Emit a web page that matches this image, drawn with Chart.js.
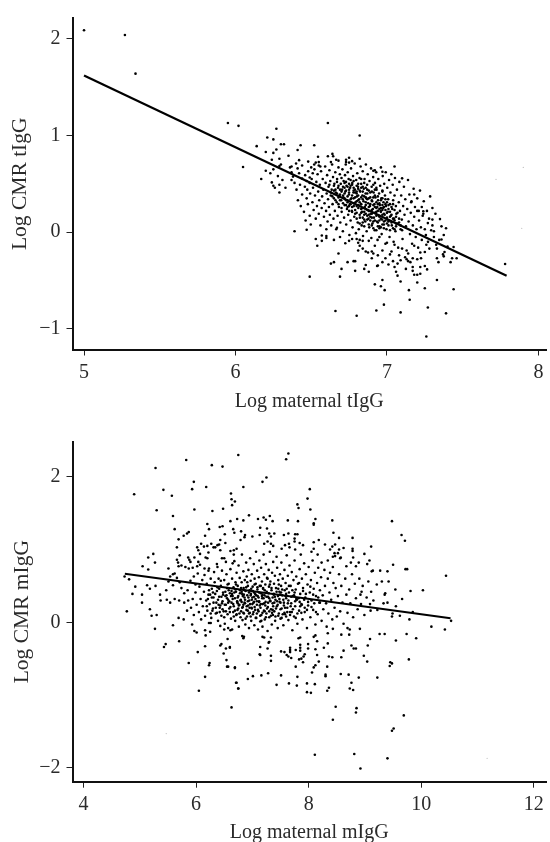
<!DOCTYPE html>
<html>
<head>
<meta charset="utf-8">
<script src="https://cdn.jsdelivr.net/npm/chart.js@4"></script>
<style>
html, body { margin: 0; padding: 0; background: #fff; overflow: hidden; height: 842px; }
canvas { position: absolute; left: 0; }
#topChart { top: 0; }
#bottomChart { top: 420px; }
</style>
</head>
<body>
<canvas id="topChart" width="550" height="414"></canvas>
<canvas id="bottomChart" width="550" height="425"></canvas>
<script>
const topXTicks = [5, 6, 7, 8];
const topYTicks = [-1, 0, 1, 2];
const bottomXTicks = [4, 6, 8, 10, 12];
const bottomYTicks = [-2, 0, 2];

const topLineX = [5, 7.79];
const topLineY = [1.62, -0.45];
const bottomLineX = [4.735, 10.52];
const bottomLineY = [0.668, 0.055];

const topFaint = [[7.72,.546],[7.9,.67],[7.89,.04]];
const bottomFaint = [[11.17,-1.87],[5.47,-1.53]];

// outliers first, then the dense cloud column by column
const topPoints = [
[5,2.09],[5.27,2.04],[5.34,1.64],[5.95,1.13],[6.02,1.1],[6.27,1.07],[6.61,1.13],[6.82,1],[6.21,.98],[6.25,.96],[6.14,.89],[6.2,.83],[6.25,.82],[6.27,.855],[6.3,.91],[6.32,.91],[6.43,.9],[6.41,.85],[6.52,.9],[6.35,.79],[6.05,.675],[6.2,.635],[6.17,.55],[6.23,.61],[6.25,.65],[6.28,.58],[6.31,.54],[6.24,.515],[6.25,.48],[6.26,.46],[6.29,.49],[6.29,.41],[6.33,.46],[6.24,.75],[6.29,.76],[6.3,.7],[6.29,.685],
[7.05,.68],[6.91,.635],[6.92,.64],[6.97,.625],[7.1,.557],[7.18,.39],[7.16,.31],[7.23,.26],[7.24,.217],[7.24,.19],[7.2,.22],[7.21,.22],[7.3,.13],[7.35,.135],[7.39,.04],[7.27,.094],[7.3,.07],[7.375,-.03],[7.36,-.076],[7.31,.01],[7.78,-.33],[7.44,-.154],[7.46,-.27],[7.43,-.27],[7.42,-.31],[7.325,-.13],[7.33,-.17],[7.33,-.27],[7.34,-.31],[7.38,-.205],[7.37,-.23],[7.375,-.25],[7.33,-.495],[7.44,-.59],[7.25,-.58],[7.27,-.78],[7.39,-.84],[7.15,-.7],[7.145,-.6],[7.2,-.52],[7.09,-.51],[7.09,-.83],[6.98,-.75],[6.93,-.81],[7.26,-1.08],[6.985,-.6],[6.96,-.56],[6.92,-.54],[6.97,-.495],[7.07,-.45],[7.06,-.41],[6.935,-.35],[6.88,-.41],[7.01,-.335],[7.05,-.36],[7.07,-.325],[7.125,-.38],[7.17,-.36],[7.17,-.4],[7.18,-.44],[7.2,-.44],[7.22,-.43],[7.22,-.36],[7.25,-.35],[7.265,-.385],[7.13,-.28],[7.14,-.3],[7.155,-.31],[7.17,-.27],[7.2,-.28],[7.225,-.27],[7.22,-.21],[7.25,-.205],[7.28,-.17],[7.26,-.13],
[6.49,-.46],[6.69,-.46],[6.66,-.815],[6.8,-.865],[6.68,-.22],[6.63,-.325],[6.65,-.31],[6.74,-.31],[6.78,-.3],[6.79,-.3],[6.7,-.38],[6.79,-.4],[6.86,-.34],[6.85,-.38],[6.94,-.345],[6.39,.01],[6.47,.025],[6.53,-.07],[6.57,-.09],[6.54,-.14],[6.6,-.06],[6.6,-.04],[6.57,-.035],[6.65,-.08],[6.69,-.05],[6.725,-.115],[6.75,-.09],[6.77,-.07],[6.8,-.07],[6.82,-.08],[6.81,-.11],[6.82,-.14],[6.84,-.17],[6.81,-.19],[6.86,-.2],[6.875,-.21],[6.9,-.2],[6.91,-.22],[6.6,.03],[6.67,.045],
[6.545,.78],[6.61,.785],[6.64,.81],[6.645,.785],[6.75,.77],[6.73,.75],[6.77,.735],[6.75,.72],[6.73,.725],[6.82,.76],[6.665,.75],[6.68,.74],[6.63,.725],[6.48,.73],[6.42,.745],[6.4,.71],[6.44,.69],[6.53,.72],[6.55,.725],[6.55,.69],[6.52,.7],[6.5,.67],[6.56,.68],[6.37,.68],[6.36,.67],[6.41,.66],[6.42,.61],[6.37,.62],[6.38,.575],[6.37,.54],[6.39,.51],[6.48,.63],[6.46,.59],[6.49,.565],[6.51,.61],[6.47,.53],[6.44,.555],[6.49,.51],
[6.403,.44],[6.412,.33],[6.426,.49],[6.431,.27],[6.44,.39],[6.452,.21],[6.458,.47],[6.463,.12],[6.47,.35],[6.474,.44],[6.478,.29],[6.49,.17],[6.493,.4],[6.497,.08],
[6.503,.55],[6.508,.31],[6.512,.46],[6.516,.23],[6.521,.65],[6.525,.38],[6.53,.14],[6.534,.52],[6.538,.27],[6.542,.6],[6.546,.42],[6.55,.19],[6.553,.33],[6.557,.49],[6.561,.07],[6.565,.63],[6.569,.25],[6.572,.37],[6.576,.55],[6.58,.44],[6.584,.16],[6.588,.3],[6.592,.68],[6.595,.51],[6.598,.22],
[6.602,.4],[6.605,.59],[6.608,.11],[6.611,.34],[6.614,.47],[6.617,.26],[6.62,.64],[6.623,.18],[6.626,.53],[6.629,.38],[6.632,.07],[6.635,.44],[6.638,.7],[6.641,.29],[6.644,.57],[6.647,.14],[6.65,.35],[6.653,.5],[6.656,.22],[6.659,.62],[6.662,.41],[6.665,.03],[6.668,.31],[6.671,.55],[6.674,.17],[6.677,.46],[6.68,.67],[6.683,.26],[6.686,.38],[6.689,.6],[6.692,.1],[6.695,.5],[6.698,.33],
[6.701,.21],[6.704,.44],[6.706,.65],[6.709,.01],[6.712,.36],[6.714,.53],[6.717,.15],[6.72,.28],[6.723,.59],[6.725,.42],[6.728,.7],[6.731,.08],[6.733,.48],[6.736,.24],[6.739,.33],[6.741,.62],[6.744,.18],[6.747,.55],[6.749,.39],[6.752,-.03],[6.755,.29],[6.757,.46],[6.76,.12],[6.763,.66],[6.765,.35],[6.768,.22],[6.771,.51],[6.773,.05],[6.776,.58],[6.779,.41],[6.781,.27],[6.784,.16],[6.787,.71],[6.789,.44],[6.792,.31],[6.795,-.01],[6.797,.54],[6.8,.2],
[6.802,.37],[6.804,.61],[6.807,.1],[6.809,.47],[6.811,.25],[6.814,.03],[6.816,.34],[6.819,.56],[6.821,.15],[6.823,.42],[6.826,.68],[6.828,.29],[6.83,.5],[6.833,.07],[6.835,.21],[6.838,.38],[6.84,.63],[6.842,-.04],[6.845,.32],[6.847,.45],[6.85,.18],[6.852,.55],[6.854,.26],[6.857,.11],[6.859,.4],[6.861,.7],[6.864,.35],[6.866,.01],[6.869,.49],[6.871,.23],[6.873,.6],[6.876,.3],[6.878,.14],[6.88,.43],[6.883,.05],[6.885,.53],[6.888,.27],[6.89,.36],[6.892,.19],[6.895,.66],[6.897,-.06],[6.899,.47],
[6.902,.32],[6.904,.09],[6.907,.24],[6.909,.57],[6.912,.41],[6.914,.15],[6.917,.29],[6.919,.02],[6.921,.51],[6.924,.36],[6.926,.2],[6.929,.62],[6.931,.44],[6.934,.11],[6.936,.26],[6.938,-.08],[6.941,.33],[6.943,.55],[6.946,.17],[6.948,.4],[6.951,.06],[6.953,.28],[6.955,.48],[6.958,.22],[6.96,.67],[6.963,.35],[6.965,-.02],[6.968,.13],[6.97,.43],[6.972,.58],[6.975,.25],[6.977,.31],[6.98,.08],[6.982,.5],[6.985,.18],[6.987,.38],[6.99,-.12],[6.992,.62],[6.994,.27],[6.997,.03],
[7.002,.46],[7.005,.21],[7.008,.34],[7.011,.12],[7.014,.54],[7.017,-.05],[7.02,.29],[7.023,.41],[7.026,.17],[7.029,.6],[7.032,.07],[7.035,.24],[7.038,.49],[7.041,.33],[7.044,-.1],[7.047,.14],[7.05,.38],[7.053,.56],[7.056,.01],[7.059,.27],[7.062,.19],[7.066,.44],[7.07,.09],[7.074,-.16],[7.078,.31],[7.082,.52],[7.086,.22],[7.09,.03],[7.094,.38],[7.098,.13],
[7.103,-.07],[7.107,.27],[7.112,.47],[7.116,.18],[7.121,.34],[7.125,.06],[7.13,-.19],[7.134,.24],[7.139,.54],[7.143,.11],[7.148,.39],[7.152,-.02],[7.157,.2],[7.162,.32],[7.166,-.12],[7.171,.07],[7.176,.45],[7.18,.16],[7.185,.26],[7.19,-.05],[7.195,.03],[7.2,.35],
[7.206,-.16],[7.212,.12],[7.218,.43],[7.224,.05],[7.23,-.08],[7.236,.17],[7.243,.32],[7.25,.03],[7.257,-.03],[7.264,.22],[7.271,-.1],[7.278,.14],[7.285,.37],[7.292,.02],[7.31,-.05],[7.32,.19],[7.345,-.08],[7.36,.06],[7.4,-.15],[7.3,.25],
[6.88,-.09],[6.92,-.14],[6.95,-.05],[6.97,-.19],[7,-.11],[7.03,-.2],[7.05,-.13],[7.08,-.24],[7.1,-.17],[7.14,-.22],[7.18,-.14],[6.84,-.09],[6.9,-.27],[6.94,-.24],[6.99,-.27],[7.02,-.23],[7.12,-.26],[7.04,-.3],[6.97,-.31],[7.09,-.29]
];

// the almost solid middle of the upper cloud, leaning along the fitted line
const topCore = [
[6.71,.47],[6.86,.28],[6.79,.36],[6.93,.17],[6.75,.41],[6.99,.12],[6.84,.42],[6.66,.44],[6.9,.23],[6.77,.26],[7.03,.1],[6.81,.33],[6.95,.3],[6.69,.39],[6.88,.35],[6.73,.52],[7,.2],[6.83,.24],[6.97,.08],[6.62,.49],[6.78,.43],[6.92,.38],[7.06,.16],[6.86,.19],[6.74,.31],[6.98,.26],[6.81,.5],[6.91,.11],[6.68,.29],[7.04,.04],[6.85,.37],[6.76,.48],[6.94,.22],[6.8,.4],[7.09,.07],[6.89,.29],[6.64,.37],[6.96,.14],[6.72,.35],[6.83,.55],[7.01,.28],[6.87,.13],[6.79,.23],[6.93,.46],[6.7,.56],[7.05,.23],[6.82,.18],[6.97,.35],[6.75,.27],[6.9,.42],[6.85,.06],[7.02,.16],[6.67,.52],[6.78,.3],[6.92,.26],[6.84,.34],[7.08,.14],[6.73,.43],[6.96,.05],[6.88,.22],[6.77,.38],[7,.31],[6.81,.45],[6.94,.1],[6.65,.43],[6.86,.46],[6.71,.3],[7.03,.18],[6.9,.33],[6.8,.14],[6.98,.19],[6.75,.5],[6.87,.4],[6.93,.02],[6.69,.33],[7.06,.09],[6.83,.29],[6.95,.24],[6.78,.53],[6.91,.36],[6.82,.09],[7.01,.07],[6.74,.37],[6.89,.16],[6.97,.42],[6.7,.25],[6.85,.51],[7.04,.29],[6.8,.27],[6.92,.12],[6.76,.34],[6.99,.34],[6.86,.24],[6.63,.41],[6.94,.29],[6.72,.46],[6.88,.08],[7.07,.2],[6.84,.47],[6.96,.21],[6.79,.41],[7.02,.02],[6.9,.19],[6.68,.48],[6.83,.2],[6.98,.11],[6.75,.22],[6.93,.31],[6.81,.38],[7.1,.02],[6.87,.34],[6.73,.28],[6.95,.16],[6.78,.46],[7,.15],[6.91,.49],[6.66,.33],[6.85,.13],[6.97,.28],[6.8,.32],[7.05,.12],[6.89,.41],[6.72,.4],[6.94,.06],[6.84,.25],[6.76,.54],[6.99,.23],[6.92,.2],[6.69,.44],[7.03,.26],[6.82,.43],[6.88,.18],[6.74,.47],[6.96,.33],[6.79,.19],[7.08,.1],[6.9,.07],[6.86,.31],[6.71,.38],[6.95,.04],[6.83,.36],[7.01,.24],[6.77,.21],[6.93,.25],[6.65,.48],[6.8,.48],[6.97,.18],[6.87,.44],[6.73,.33],[7.04,.14],[6.91,.28],[6.85,.21],[6.98,.04],[6.75,.44],[6.89,.12],[6.81,.28],[7.06,.06],[6.94,.37],[6.68,.36],[6.84,.15],[7,.09],[6.78,.35],[6.92,.44],[6.86,.36],[6.7,.42],[6.96,.25],[7.02,.21],[6.83,.46],[6.76,.29],[6.9,.15],[6.88,.26],[6.72,.51],[7.05,.03],[6.8,.42],[6.95,.12],[6.84,.1],[6.67,.4],[6.99,.29],[6.77,.49],[6.93,.21],[6.87,.17],[7.01,.11],[6.74,.26],[6.91,.04],[6.82,.31],[6.97,.23]
];

const bottomPoints = [
[6.75,2.3],[5.825,2.23],[5.28,2.12],[6.28,2.16],[6.47,2.14],[5.96,1.93],[5.93,1.83],[6.18,1.86],[5.42,1.82],[4.9,1.76],[5.57,1.74],[6.62,1.77],[6.63,1.69],[6.69,1.66],[6.64,1.61],[5.3,1.54],[5.97,1.55],[6.29,1.53],[6.48,1.56],[5.59,1.46],[6.73,1.42],[6.61,1.39],[6.2,1.35],[6.42,1.31],[6.47,1.32],[6.23,1.28],[5.62,1.28],[5.87,1.24],[5.84,1.22],[6.66,1.28],[6.68,1.23],[5.78,1.19],[5.69,1.14],[6.16,1.19],[6.51,1.21],[6.43,1.13],[6.52,1.09],[6.09,1.08],[6.27,1.08],[6.38,1.06],[6.41,1.07],[6.14,1.04],[6.2,1.05],[6.02,1.03],[6.31,1.03],[6.34,1.03],[5.66,1.03],[6.43,.99],[6.04,.99],[6.07,.94],[6.22,.96],[5.24,.94],[5.15,.89],[5.71,.92],[6.61,.98],[6.67,.99],[6.72,1.01],[6.67,.93],[5.86,.89],[5.97,.89],[6.17,.89],[6.2,.88],[6.46,.88],[6.5,.88],[5.66,.86],[5.68,.82],[5.88,.86],[5.9,.83],[6.04,.83],[5.27,.82],[6.37,.8],[6.53,.83],[6.65,.81],[5.05,.77],[5.15,.725],[5.51,.74],[5.69,.77],[5.74,.78],[5.81,.76],[5.87,.74],[5.94,.75],[6.02,.77],[6.07,.79],[6.15,.74],[6.22,.71],
[7.64,2.32],[7.6,2.24],[7.25,1.99],[7.18,1.93],[6.84,1.86],[8.02,1.83],[7.98,1.7],[7.8,1.62],[7.82,1.57],[8.03,1.55],[7.31,1.46],[6.94,1.47],[7.2,1.44],[7.1,1.42],[7.24,1.41],[6.84,1.4],[7.36,1.39],[7.63,1.4],[7.81,1.39],[8.12,1.42],[8.09,1.36],[8.09,1.34],[8.42,1.4],[9.48,1.39],[7.14,1.3],[7.26,1.29],[6.8,1.25],[7.3,1.22],[7.39,1.22],[8.44,1.23],[6.87,1.2],[6.86,1.17],[7,1.18],[7.13,1.2],[7.33,1.18],[7.56,1.2],[7.64,1.22],[7.76,1.21],[7.8,1.21],[8.54,1.16],[8.78,1.16],[6.79,1.13],[7.75,1.15],[7.27,1.11],[7.33,1.08],[7.37,1.05],[7.21,1.08],[7.58,1.06],[7.65,1.08],[7.75,1.11],[7.84,1.09],[7.9,1.06],[8.18,1.13],[8.09,1.1],[8.29,1.07],[8.47,1.07],[8.42,1.04],[9.11,1.04],[8.62,1.02],[8.78,1.01],[8.78,.98],[8.38,1],[8.54,1],[7.52,1.01],[7.66,1.03],[7.76,1],[8.09,1.01],[8.05,.97],[8.16,.93],[8.99,.94],[8.46,.95],[8.52,.95],[8.43,.9],[8.47,.91],[8.79,.89],[9.12,.7],[9.14,.71],[9.27,.71],[9.4,.7],[9.5,.79],[9.08,.85],[9.04,.8],[8.89,.82],[8.84,.77],[8.75,.82],[8.67,.77],[8.56,.88],[8.57,.89],[8.43,.76],[8.34,.85],[8.23,.82],
[9.54,.45],[9.42,.56],[9.3,.56],[9.21,.52],[9.36,.4],[9.35,.38],[9.55,.22],[9.4,.27],[9.33,.26],[9.11,.42],[9.09,.25],[8.94,.42],[8.92,.38],[9.22,.17],
[9.65,1.2],[9.71,1.12],[9.72,.73],[9.75,.73],[10.44,.64],[9.81,.43],[10.03,.44],[9.66,.32],[9.85,.14],[9.49,.12],[9.48,.08],[9.62,.09],[9.79,.04],[10.53,.02],[10.18,-.06],[10.42,-.1],[9.74,-.16],[9.91,-.22],[9.55,-.25],[9.78,-.51],[9.45,-.55],[9.48,-.565],[9.44,-.6],[9.69,-1.28],[9.51,-1.46],[9.48,-1.49],
[8.11,-1.82],[8.81,-1.81],[9.4,-1.87],[8.92,-2.01],[8.43,-1.34],[8.84,-1.24],[8.85,-1.18],[8.48,-1.16],[6.63,-1.17],[8.33,-.94],[8.36,-.9],[7.97,-.96],[8.04,-.97],[8.73,-.91],[8.79,-.93],[8.76,-.83],[7.79,-.87],[7.8,-.75],[7.65,-.84],[7.43,-.86],[7.97,-.84],[8.11,-.85],[6.71,-.83],[6.75,-.91],[6.92,-.78],[7.01,-.74],[7.16,-.73],[7.28,-.7],[7.51,-.73],[8.06,-.69],[8.3,-.72],[8.3,-.74],[8.57,-.71],[8.71,-.72],[8.89,-.76],[9.22,-.76],[8.33,-.61],[7.77,-.61],[8.09,-.62],[8.12,-.59],[6.69,-.62],[6.92,-.57],[8.18,-.54],[7.9,-.55],[7.87,-.5],[7.83,-.51],[7.91,-.47],[7.33,-.46],[7.33,-.53],[7.13,-.44],[7.14,-.45],[7.64,-.47],[7.69,-.49],[7.51,-.4],[7.57,-.41],[7.61,-.45],[8.36,-.47],[8.42,-.48],[8.58,-.48],[8.15,-.45],[8.62,-.39],[8.98,-.46],[9.04,-.54],[8.12,-.37],[8.27,-.35],[8.34,-.29],[7.99,-.3],[7.99,-.36],[7.77,-.38],[7.67,-.35],[7.67,-.38],[7.67,-.41],[7.85,-.31],[7.85,-.35],[7.85,-.39],[7.93,-.44],[7.14,-.34],[7.27,-.36],[6.6,-.35],[8.76,-.32],[8.8,-.36],[8.84,-.36],[9.05,-.32],[9.09,-.23],[9.26,-.16],[9.35,-.16],[8.91,-.09],[8.58,-.17],[8.72,-.17],[8.43,-.09],[8.34,-.15],[8.69,-.08],[8.73,-.1],[8.15,-.26],[8.09,-.2],[8.12,-.18],[7.82,-.22],[7.85,-.21],[7.33,-.21],[7.3,-.27],[7.29,-.28],[7.18,-.2],[7.21,-.21],[6.82,-.19],[6.84,-.22],[6.85,-.2],
[4.77,.15],[5.04,.27],[5.18,.18],[5.21,.09],[5.3,.1],[5.27,-.09],[5.59,-.04],[5.69,.06],[5.78,.04],[5.93,-.03],[5.7,-.26],[5.46,-.3],[5.43,-.34],[6.03,-.41],[5.87,-.56],[6.16,-.33],[5.97,-.12],[6.01,-.14],[6.16,-.11],[6.25,-.13],[6.17,-.18],[6.23,-.01],[6.26,-.01],[6.43,-.05],[6.5,-.1],[6.57,-.08],[6.64,-.1],[6.61,-.11],[6.56,-.23],[6.43,-.32],[6.45,-.3],[6.53,-.36],[6.6,-.34],[6.49,-.43],[6.54,-.52],[6.55,-.61],[6.57,-.61],[6.69,-.63],[6.24,-.56],[6.23,-.59],[6.16,-.75],[6.72,-.83],[6.75,-.91],[6.05,-.94],
[4.73,.63],[4.81,.59],[4.92,.49],[4.87,.39],[5.04,.38],[5.13,.51],[5.18,.46],[5.28,.5],[5.36,.38],[5.37,.3],[5.48,.31],[5.54,.27],[5.62,.32],[5.47,.44],[5.51,.56],[5.54,.63],[5.59,.66],[5.62,.67],[5.66,.61],[5.71,.55],[5.59,.51],[5.74,.47],[5.79,.4],[5.85,.44],[5.9,.57],[5.96,.63],[5.99,.52],
[5.7,.3],[5.79,.27],[5.84,.16],[5.86,.3],[5.91,.2],[5.94,.32],[5.96,.1],[5.99,.41],[6.01,.24],[6.03,.67],[6.05,.14],[6.06,.49],[6.08,.32],[6.09,.04],[6.11,.58],[6.12,.22],[6.14,.42],[6.15,.65],[6.16,.09],[6.18,.3],[6.19,.53],[6.2,.16],[6.22,.38],[6.23,.74],[6.24,.25],[6.26,.6],[6.27,.06],[6.28,.46],[6.3,.19],[6.31,.34],[6.32,.69],[6.33,.55],[6.35,.12],[6.36,.27],[6.37,.43],[6.38,.76],[6.39,.02],[6.4,.6],[6.41,.35],[6.42,.2],[6.44,.5],[6.45,.09],[6.46,.71],[6.47,.29],[6.48,.41],[6.49,.15],[6.5,.58],[6.51,-.02],[6.52,.36],[6.53,.24],[6.54,.66],[6.55,.47],[6.56,.11],[6.57,.31],[6.58,.53],[6.59,.19],[6.6,.4],[6.61,.73],[6.62,.05],
[6.63,.27],[6.64,.6],[6.65,.36],[6.66,.14],[6.665,.48],[6.67,.22],[6.68,.84],[6.69,.33],[6.695,.02],[6.7,.55],[6.71,.42],[6.715,.1],[6.72,.68],[6.73,.28],[6.735,.17],[6.74,.5],[6.75,.36],[6.755,.78],[6.76,-.06],[6.77,.24],[6.775,.61],[6.78,.44],[6.79,.07],[6.795,.31],[6.8,.15],[6.81,.55],[6.815,.93],[6.82,.39],[6.825,.03],[6.83,.21],[6.84,.7],[6.845,.47],[6.85,.12],[6.86,.34],[6.865,.58],[6.87,.26],[6.875,-.03],[6.88,.43],[6.89,.82],[6.895,.17],[6.9,.63],[6.905,.08],[6.91,.37],[6.92,.5],[6.925,.23],[6.93,.72],[6.94,-.08],[6.945,.3],[6.95,.44],[6.955,.13],[6.96,.88],[6.97,.57],[6.975,.39],[6.98,.02],[6.985,.2],[6.99,.66],[7,.34],
[7.005,.49],[7.01,.11],[7.02,.27],[7.025,.8],[7.03,.41],[7.035,-.04],[7.04,.6],[7.05,.17],[7.055,.32],[7.06,.53],[7.065,.97],[7.07,.06],[7.08,.24],[7.085,.71],[7.09,.45],[7.095,.36],[7.1,-.1],[7.11,.15],[7.115,.62],[7.12,.29],[7.125,.85],[7.13,.5],[7.14,.01],[7.145,.2],[7.15,.4],[7.155,.75],[7.16,.1],[7.17,.56],[7.175,.33],[7.18,-.06],[7.185,.25],[7.19,.46],[7.2,.93],[7.205,.16],[7.21,.66],[7.215,.37],[7.22,.04],[7.23,.52],[7.235,.28],[7.24,.8],[7.25,.12],[7.255,.42],[7.26,.61],[7.27,-.12],[7.275,.21],[7.28,.35],[7.29,.72],[7.295,.49],[7.3,.07],[7.31,.97],[7.315,.3],[7.32,.56],[7.33,.18],
[7.34,.44],[7.345,-.03],[7.35,.68],[7.36,.26],[7.365,.1],[7.37,.83],[7.38,.38],[7.385,.53],[7.39,.15],[7.4,.64],[7.405,.02],[7.41,.31],[7.42,.47],[7.43,.9],[7.435,.22],[7.44,.75],[7.45,-.08],[7.455,.36],[7.46,.58],[7.47,.12],[7.48,.42],[7.485,.28],[7.49,.66],[7.5,.05],[7.51,.5],[7.515,.82],[7.52,.19],[7.53,.37],[7.54,.6],[7.55,-.04],[7.56,.27],[7.57,.72],[7.575,.44],[7.58,.11],[7.59,.54],[7.6,.33],[7.61,.92],[7.62,.2],[7.63,.64],[7.64,.03],[7.65,.41],[7.66,.78],[7.67,.14],[7.68,.5],[7.69,.26],[7.7,.69],[7.71,-.11],[7.72,.36],[7.73,.58],[7.74,.08],[7.75,.85],[7.76,.22],[7.77,.45],[7.78,.63],[7.79,.31],
[7.8,-.02],[7.81,.53],[7.83,.16],[7.84,.73],[7.85,.39],[7.86,.93],[7.87,.25],[7.88,.6],[7.89,.04],[7.9,.47],[7.92,.81],[7.93,.14],[7.94,.34],[7.95,.66],[7.97,-.08],[7.98,.52],[7.99,.23],[8,.76],[8.02,.41],[8.03,.07],[8.04,.58],[8.05,.3],[8.07,.85],[8.08,.17],[8.09,.46],[8.11,.68],[8.12,-.03],[8.13,.36],[8.15,.54],[8.16,.11],[8.17,.75],[8.19,.27],[8.2,.44],[8.22,.62],[8.23,.02],[8.25,.37],[8.26,.18],[8.28,.72],[8.29,.5],[8.31,.26],[8.32,-.06],[8.34,.6],[8.35,.12],[8.37,.41],[8.38,.68],[8.4,.31],[8.42,.04],[8.44,.54],[8.46,.2],[8.48,.47],[8.5,.08],[8.52,.36],[8.54,.66],[8.56,.15],[8.58,.5],[8.6,.27],[8.62,-.02],[8.65,.6],[8.67,.38],[8.69,.13],[8.72,.45],[8.74,.26],[8.77,.66],[8.79,.07],[8.82,.53],[8.84,.33],[8.87,.18],[8.9,.6],[8.93,.25],[8.96,.5],[8.99,.1],[9.03,.34],[9.06,.56],[9.1,.16],[9.15,.3]
];

// thick middle of the lower cloud, around the fitted line
const bottomCore = [
[6.52,.42],[7.18,.13],[6.83,.36],[7.61,.46],[6.31,.27],[7.04,.52],[7.88,.24],[6.67,.08],[7.36,.34],[6.95,.2],[8.13,.14],[6.44,.57],[7.52,.06],[7.12,.41],[6.76,.23],[7.74,.37],[6.23,.44],[7.27,.6],[6.88,.05],[7.45,.24],[8.03,.49],[6.59,.29],[7.08,.29],[7.67,.1],[6.37,.13],[6.98,.46],[7.3,.15],[7.83,.54],[6.71,.52],[7.49,.38],[6.47,.18],[7.16,.02],[7.92,.31],[6.86,.27],[7.58,.2],[6.28,.34],[7.22,.44],[6.63,.43],[7.41,.08],[8.2,.27],[6.93,.34],[7.71,.44],[6.5,.07],[7.02,.14],[7.34,.47],[6.78,.4],[7.97,.17],[6.41,.46],[7.55,.31],[7.13,.23],[6.91,.55],[7.8,.12],[6.19,.22],[7.26,.19],[6.69,.16],[7.47,.52],[7.07,.37],[8.08,.38],[6.55,.33],[7.63,.26],[6.84,.13],[7.37,.22],[6.34,.39],[7.2,.33],[6.97,.08],[7.76,.29],[6.62,.36],[7.43,.42],[7.03,.28],[6.46,.26],[7.9,.43],[6.8,.47],[7.57,.13],[7.15,.5],[6.26,.12],[7.32,.29],[6.73,.29],[7.69,.35],[6.94,.41],[7.5,.18],[6.56,.52],[7.1,.17],[8.17,.34],[6.39,.31],[7.24,.07],[6.87,.31],[7.85,.22],[6.66,.25],[7.4,.35],[7.01,.43],[7.6,.39],[6.48,.38],[7.77,.06],[6.82,.2],[7.29,.4],[6.21,.32],[7.17,.36],[6.96,.25],[7.95,.39],[6.6,.14],[7.46,.09],[7.06,.06],[7.65,.5],[6.74,.34],[7.35,.13],[6.43,.23],[7.53,.45],[6.89,.48],[7.23,.23],[8.05,.21],[6.58,.44],[7.72,.18],[6.99,.31],[7.31,.52],[6.3,.41],[7.11,.34],[6.77,.12],[7.44,.29],[7.82,.33],[6.65,.32],[7.56,.23],[7.04,.21],[6.92,.16],[7.19,.47],[6.35,.2],[7.38,.39],[6.81,.28],[7.99,.28],[6.53,.15],[7.62,.14],[7.09,.48],[7.28,.27],[6.7,.45],[7.48,.32],[6.85,.38],[7.75,.41],[6.45,.35],[7.14,.09],[6.97,.37],[7.59,.36],[6.25,.38],[7.33,.09],[6.61,.21],[7.87,.13],[7.05,.39],[6.79,.3],[7.42,.19],[6.9,.22],[7.68,.22],[6.51,.24],[7.21,.26],[8.1,.26],[7,.25],[6.72,.11],[7.51,.41],[6.38,.48],[7.25,.35],[6.86,.44],[7.78,.32],[6.64,.39],[7.39,.27],[7.12,.28],[6.94,.12],[7.54,.11],[6.42,.14],[7.93,.2],[6.75,.19],[7.18,.38],[7.64,.3],[6.57,.27],[6.84,.24],[7.03,.35],[7.3,.33],[7.46,.46],[6.29,.16],[7.7,.14],[6.68,.41],[7.08,.12],[6.92,.29],[7.84,.28],[7.36,.17],[6.54,.37],[7.22,.15],[6.81,.42],[7.6,.08],[6.99,.19],[7.5,.27],[6.4,.24],[7.15,.25],[6.74,.26]
];

function toXY(list) {
    return list.map(function(p) { return {x: p[0], y: p[1]}; });
}

function lineXY(xs, ys) {
    return xs.map(function(x, i) { return {x: x, y: ys[i]}; });
}

function fmtTick(v) {
    return v < 0 ? '\u2212' + Math.abs(v) : String(v);
}

function createChart(id, cfg) {
    const family = '"Liberation Serif"';
    const textColor = '#2a2a2a';
    new Chart(document.getElementById(id).getContext('2d'), {
        type: 'scatter',
        data: {
            datasets: [
                {data: toXY(cfg.points), backgroundColor: '#000', borderWidth: 0, pointRadius: 1.3, order: 2},
                {data: toXY(cfg.faint), backgroundColor: '#bbb', borderWidth: 0, pointRadius: 0.6, order: 3},
                {data: cfg.line, type: 'line', showLine: true, borderColor: '#000', borderWidth: cfg.lineWidth, pointRadius: 0, fill: false, tension: 0, order: 1}
            ]
        },
        options: {
            responsive: false,
            animation: false,
            clip: false,
            layout: {padding: {top: cfg.top, right: 2, left: 0, bottom: 0}},
            plugins: {legend: {display: false}, tooltip: {enabled: false}},
            scales: {
                x: {
                    type: 'linear',
                    min: cfg.xMin,
                    max: cfg.xMax,
                    afterBuildTicks: function(axis) { axis.ticks = cfg.xTicks.map(function(v) { return {value: v}; }); },
                    afterFit: function(axis) { axis.height = cfg.xHeight; },
                    grid: {drawOnChartArea: false, drawTicks: true, tickLength: 6, tickColor: '#222', tickWidth: 1},
                    border: {color: '#111', width: 2},
                    ticks: {color: textColor, font: {family: family, size: 20}, padding: 5, maxRotation: 0, autoSkip: false, callback: fmtTick},
                    title: {display: true, text: cfg.xTitle, color: textColor, font: {family: family, size: 20}, padding: {top: 6, bottom: 0}}
                },
                y: {
                    type: 'linear',
                    min: cfg.yMin,
                    max: cfg.yMax,
                    afterBuildTicks: function(axis) { axis.ticks = cfg.yTicks.map(function(v) { return {value: v}; }); },
                    afterFit: function(axis) { axis.width = cfg.yWidth; },
                    grid: {drawOnChartArea: false, drawTicks: true, tickLength: 6, tickColor: '#222', tickWidth: 1},
                    border: {color: '#111', width: 2},
                    ticks: {color: textColor, font: {family: family, size: 20}, padding: 6, autoSkip: false, callback: fmtTick},
                    title: {display: true, text: cfg.yTitle, color: textColor, font: {family: family, size: 21.5}, padding: {top: cfg.yTitlePad, bottom: 0}}
                }
            }
        }
    });
}

createChart('topChart', {
    points: topPoints.concat(topCore), faint: topFaint, line: lineXY(topLineX, topLineY), lineWidth: 2.2,
    xMin: 4.924, xMax: 8.05, yMin: -1.214, yMax: 2.216,
    xTicks: topXTicks, yTicks: topYTicks,
    xTitle: 'Log maternal tIgG', yTitle: 'Log CMR tIgG', yTitlePad: 7,
    top: 13, xHeight: 64.5, yWidth: 72.5
});
createChart('bottomChart', {
    points: bottomPoints.concat(bottomCore), faint: bottomFaint, line: lineXY(bottomLineX, bottomLineY), lineWidth: 2,
    xMin: 3.805, xMax: 12.216, yMin: -2.191, yMax: 2.482,
    xTicks: bottomXTicks, yTicks: bottomYTicks,
    xTitle: 'Log maternal mIgG', yTitle: 'Log CMR mIgG', yTitlePad: 9,
    top: 21.7, xHeight: 63.3, yWidth: 72.5
});
</script>
</body>
</html>
